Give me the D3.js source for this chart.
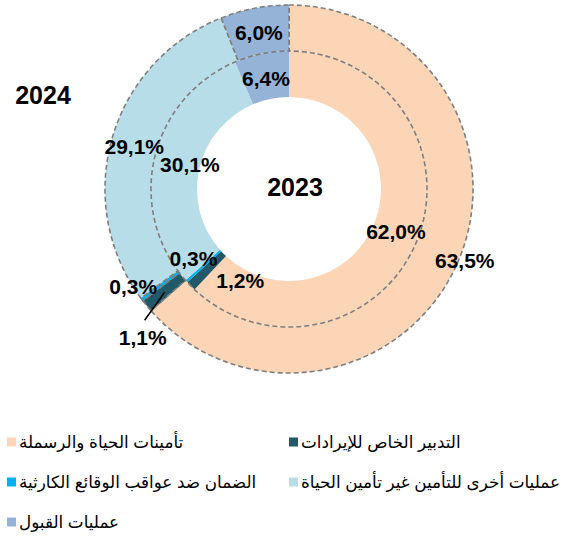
<!DOCTYPE html>
<html>
<head>
<meta charset="utf-8">
<script src="https://cdn.jsdelivr.net/npm/d3@7"></script>
<style>
  body { margin: 0; background: #fff; }
  text { font-family: Arial, "Liberation Sans", "DejaVu Sans", sans-serif; }
</style>
</head>
<body>
<svg width="565" height="536"></svg>
<script>
var categories = [
  'تأمينات الحياة والرسملة',
  'التدبير الخاص للإيرادات',
  'الضمان ضد عواقب الوقائع الكارثية',
  'عمليات أخرى للتأمين غير تأمين الحياة',
  'عمليات القبول'
];
var colors = ['#FBD5B5', '#215968', '#00B0F0', '#B7DEE8', '#95B3D7'];
var values2023 = [62.0, 1.2, 0.3, 30.1, 6.4];
var values2024 = [63.5, 1.1, 0.3, 29.1, 6.0];
var years = ['2023', '2024'];

var svg = d3.select('svg');
var cx = 289, cy = 189;

var pie = d3.pie().sort(null).value(function(d) { return d; });

var innerArc = d3.arc().innerRadius(92).outerRadius(138);
var outerArc = d3.arc().innerRadius(138).outerRadius(184);

// label nudges (pixels) away from the arc centroid
var nudge2023 = [[0, 0], [33, 11], [-10, -7], [13, 1], [0, 2]];
var nudge2024 = [[29, 5], [-22, 46], [-27, 1], [0, 2], [0, 2]];

var fmt = function(v) {
  return v.toFixed(1).replace('.', ',') + '%';
};

var g = svg.append('g')
  .attr('transform', 'translate(' + cx + ',' + cy + ')');

// inner ring = 2023
g.selectAll('.inner')
  .data(pie(values2023))
  .enter()
  .append('path')
  .attr('class', 'inner')
  .attr('d', innerArc)
  .attr('fill', function(d, i) { return colors[i]; });

// outer ring = 2024, dashed grey outline
g.selectAll('.outer')
  .data(pie(values2024))
  .enter()
  .append('path')
  .attr('class', 'outer')
  .attr('d', outerArc)
  .attr('fill', function(d, i) { return colors[i]; })
  .attr('stroke', '#7F7F7F')
  .attr('stroke-width', 1.6)
  .attr('stroke-dasharray', '5,3');

g.selectAll('.lbl-in')
  .data(pie(values2023))
  .enter()
  .append('text')
  .attr('class', 'lbl-in')
  .attr('x', function(d, i) { return innerArc.centroid(d)[0] + nudge2023[i][0]; })
  .attr('y', function(d, i) { return innerArc.centroid(d)[1] + nudge2023[i][1]; })
  .attr('text-anchor', 'middle')
  .attr('dominant-baseline', 'central')
  .style('font-size', '21px')
  .style('font-weight', 'bold')
  .text(function(d) { return fmt(d.value); });

var outerPie = pie(values2024);

// leader line for the small 2024 slice
var c1 = outerArc.centroid(outerPie[1]);
g.append('line')
  .attr('x1', c1[0])
  .attr('y1', c1[1] + 1)
  .attr('x2', c1[0] - 20)
  .attr('y2', c1[1] + 29)
  .attr('stroke', '#000')
  .attr('stroke-width', 1.5);

g.selectAll('.lbl-out')
  .data(outerPie)
  .enter()
  .append('text')
  .attr('class', 'lbl-out')
  .attr('x', function(d, i) { return outerArc.centroid(d)[0] + nudge2024[i][0]; })
  .attr('y', function(d, i) { return outerArc.centroid(d)[1] + nudge2024[i][1]; })
  .attr('text-anchor', 'middle')
  .attr('dominant-baseline', 'central')
  .style('font-size', '21px')
  .style('font-weight', 'bold')
  .text(function(d) { return fmt(d.value); });

// year titles
svg.append('text')
  .attr('x', 295)
  .attr('y', 187)
  .attr('text-anchor', 'middle')
  .attr('dominant-baseline', 'central')
  .style('font-size', '25px')
  .style('font-weight', 'bold')
  .text(years[0]);

svg.append('text')
  .attr('x', 43)
  .attr('y', 95)
  .attr('text-anchor', 'middle')
  .attr('dominant-baseline', 'central')
  .style('font-size', '25px')
  .style('font-weight', 'bold')
  .text(years[1]);

// legend
var legend = svg.selectAll('.legend')
  .data(categories)
  .enter()
  .append('g')
  .attr('class', 'legend')
  .attr('transform', function(d, i) {
    var col = i % 2, row = Math.floor(i / 2);
    return 'translate(' + (col === 0 ? 7 : 289) + ',' + (442 + row * 40) + ')';
  });

legend.append('rect')
  .attr('x', 0)
  .attr('y', -4.5)
  .attr('width', 9)
  .attr('height', 9)
  .attr('fill', function(d, i) { return colors[i]; });

legend.append('text')
  .attr('x', 12)
  .attr('y', 0)
  .attr('dominant-baseline', 'central')
  .style('font-size', '16.8px')
  .attr('fill', '#000')
  .text(function(d) { return d; });
</script>
</body>
</html>
